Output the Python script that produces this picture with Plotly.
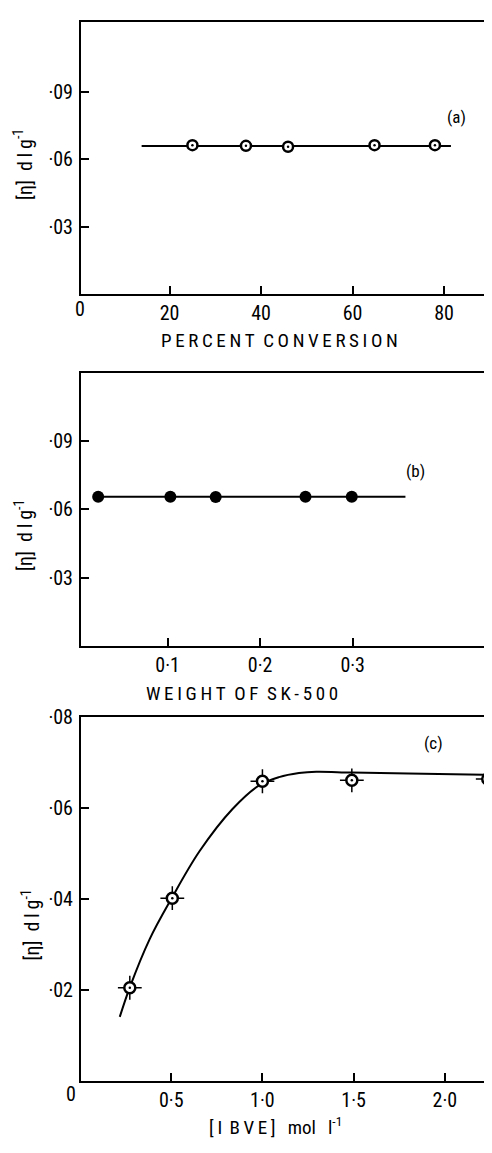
import plotly.graph_objects as go

# ---- data ----
# (a) intrinsic viscosity vs percent conversion
a_x = [25, 36.7, 45.9, 64.8, 78]
a_y = [0.0663, 0.0660, 0.0656, 0.0663, 0.0663]
a_line_x = [13.9, 81.5]
a_line_y = [0.0659, 0.0659]

# (b) intrinsic viscosity vs weight of SK-500
b_x = [0.025, 0.103, 0.152, 0.249, 0.299]
b_y = [0.0655, 0.0655, 0.0654, 0.0655, 0.0655]
b_line_x = [0.025, 0.357]
b_line_y = [0.0655, 0.0655]

# (c) intrinsic viscosity vs [IBVE]
c_x = [0.273, 0.506, 1.0, 1.49, 2.235]
c_y = [0.0205, 0.0402, 0.0659, 0.0661, 0.0664]
c_curve_x = [0.218, 0.273, 0.382, 0.5, 0.655, 0.836, 0.982, 1.091, 1.2, 1.295, 1.49, 1.8, 2.237]
c_curve_y = [0.0141, 0.0206, 0.0312, 0.0400, 0.0505, 0.0598, 0.0650, 0.0668, 0.0677, 0.0680, 0.0678, 0.0676, 0.0673]

a_xticks = [20, 40, 60, 80]
a_xtext = ["20", "40", "60", "80"]
ab_yticks = [0.03, 0.06, 0.09]
ab_ytext = ["·03", "·06", "·09"]
b_xticks = [0.1, 0.2, 0.3]
b_xtext = ["0·1", "0·2", "0·3"]
c_xticks = [0.5, 1.0, 1.5, 2.0]
c_xtext = ["0·5", "1·0", "1·5", "2·0"]
c_yticks = [0.02, 0.04, 0.06, 0.08]
c_ytext = ["·02", "·04", "·06", "·08"]

FONT = "Liberation Sans Narrow, Roboto Condensed, Roboto, sans-serif"
BLACK = "black"

fig = go.Figure()

# (a)
fig.add_trace(go.Scatter(x=a_line_x, y=a_line_y, mode="lines",
                         line=dict(color=BLACK, width=2), xaxis="x", yaxis="y"))
fig.add_trace(go.Scatter(x=a_x, y=a_y, mode="markers",
                         marker=dict(symbol="circle", size=10, color="white",
                                     line=dict(color=BLACK, width=2.5)),
                         xaxis="x", yaxis="y"))
fig.add_trace(go.Scatter(x=a_x, y=a_y, mode="markers",
                         marker=dict(symbol="circle", size=2.5, color=BLACK),
                         xaxis="x", yaxis="y"))

# (b)
fig.add_trace(go.Scatter(x=b_line_x, y=b_line_y, mode="lines",
                         line=dict(color=BLACK, width=2), xaxis="x2", yaxis="y2"))
fig.add_trace(go.Scatter(x=b_x, y=b_y, mode="markers",
                         marker=dict(symbol="circle", size=12, color=BLACK),
                         xaxis="x2", yaxis="y2"))

# (c)
fig.add_trace(go.Scatter(x=c_curve_x, y=c_curve_y, mode="lines",
                         line=dict(color=BLACK, width=2, shape="spline", smoothing=1.0),
                         xaxis="x3", yaxis="y3"))
fig.add_trace(go.Scatter(x=c_x, y=c_y, mode="markers",
                         marker=dict(symbol="cross-thin", size=17,
                                     line=dict(color=BLACK, width=1.5)),
                         xaxis="x3", yaxis="y3"))
fig.add_trace(go.Scatter(x=c_x, y=c_y, mode="markers",
                         marker=dict(symbol="circle", size=11, color="white",
                                     line=dict(color=BLACK, width=2.5)),
                         xaxis="x3", yaxis="y3"))
fig.add_trace(go.Scatter(x=c_x, y=c_y, mode="markers",
                         marker=dict(symbol="circle", size=2.5, color=BLACK),
                         xaxis="x3", yaxis="y3"))

axis_common = dict(showline=True, linecolor=BLACK, linewidth=2, mirror=True,
                   ticks="inside", ticklen=8, tickwidth=1.5, tickcolor=BLACK,
                   showgrid=False, zeroline=False,
                   tickfont=dict(family=FONT, size=20, color=BLACK))

# page body adds an 8px offset; figure is sized so the plot frames land where the reference has them
fig.update_layout(
    width=484, height=1137,
    margin=dict(l=73, r=2, t=5, b=64),
    paper_bgcolor="white", plot_bgcolor="white",
    showlegend=False,
    xaxis=dict(axis_common, domain=[0, 1], range=[0.65, 89.6], anchor="y",
               tickvals=a_xticks, ticktext=a_xtext),
    yaxis=dict(axis_common, domain=[0.7434, 1.0], range=[0.0007, 0.1207], anchor="x",
               tickvals=ab_yticks, ticktext=ab_ytext, ticklabelstandoff=2),
    xaxis2=dict(axis_common, domain=[0, 1], range=[0.00645, 0.4462], anchor="y2",
                tickvals=b_xticks, ticktext=b_xtext),
    yaxis2=dict(axis_common, domain=[0.4110, 0.6685], range=[0.00065, 0.1194], anchor="x2",
                tickvals=ab_yticks, ticktext=ab_ytext, ticklabelstandoff=2),
    xaxis3=dict(axis_common, domain=[0, 1], range=[0.0055, 2.2364], anchor="y3",
                tickvals=c_xticks, ticktext=c_xtext),
    yaxis3=dict(axis_common, domain=[0, 0.3436], range=[0, 0.08], anchor="x3",
                tickvals=c_yticks, ticktext=c_ytext, ticklabelstandoff=2),
)

def px_to_paper(xpx, ypx):
    # screenshot pixel -> paper fraction (plot area spans x 81..490, y 13..1081)
    return (xpx - 81) / 409, (1081 - ypx) / 1068

ts = "\u2009"
gap = "\u2002"
def spaced(s):
    return gap.join(ts.join(list(w)) for w in s.split(" "))

annots = [
    # origin labels
    ("0", 80, 302, 20, 0),
    ("0", 71, 1094, 20, 0),
    # panel labels
    ("(a)", 458, 109, 17, 0),
    ("(b)", 417, 466, 17, 0),
    ("(c)", 435, 740, 17, 0),
    # axis titles
    (spaced("PERCENT CONVERSION"), 280, 334, 19, 0),
    (spaced("WEIGHT OF SK-500"), 243, 690, 19, 0),
    ("[\u2009I\u2009\u2009B\u2009V\u2009E\u2009]" + gap + "\u2009mol" + gap + "\u2009l<sup>-1</sup>", 276, 1127, 19, 0),
    ("[η]" + gap + "d\u2009l\u2009g<sup>-1</sup>", 23, 157, 20, -90),
    ("[η]" + gap + "d\u2009l\u2009g<sup>-1</sup>", 23, 531, 20, -90),
    ("[η]" + gap + "d\u2009l\u2009g<sup>-1</sup>", 31, 924, 20, -90),
]
for text, xp, yp, size, ang in annots:
    xx, yy = px_to_paper(xp, yp)
    fig.add_annotation(text=text, x=xx, y=yy, xref="paper", yref="paper",
                       xanchor="center", yanchor="middle", showarrow=False,
                       textangle=ang, font=dict(family=FONT, size=size, color=BLACK))

fig.write_html("out.html")
